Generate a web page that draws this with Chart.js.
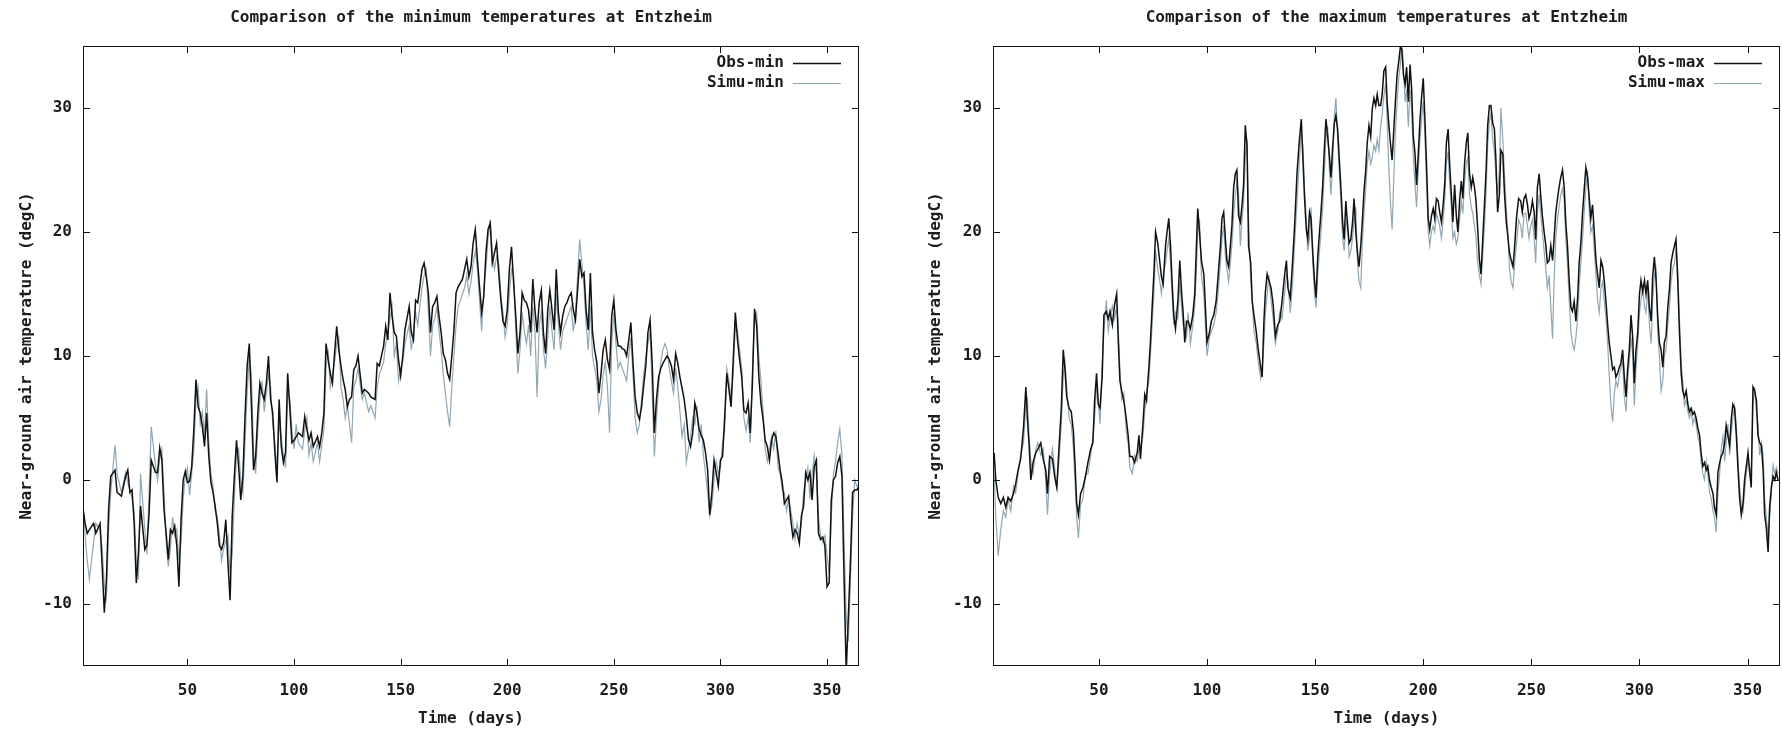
<!DOCTYPE html>
<html>
<head>
<meta charset="utf-8">
<title>Entzheim temperatures</title>
<script src="https://cdn.jsdelivr.net/npm/chart.js@4.4.1/dist/chart.umd.min.js"></script>
<style>
  html, body { margin: 0; padding: 0; background: #fff; }
  body { width: 1782px; height: 732px; position: relative; overflow: hidden; }
  canvas { position: absolute; top: 0; }
  #minChart { left: 0; }
  #maxChart { left: 891px; }
</style>
</head>
<body>
<canvas id="minChart" width="891" height="732"></canvas>
<canvas id="maxChart" width="891" height="732"></canvas>
<script>
// tick positions shared by both panels
const xTickValues = [50, 100, 150, 200, 250, 300, 350]
const yTickValues = [-10, 0, 10, 20, 30]

// minimum temperatures (degC)
const minDays = [
  1, 2, 3, 4, 6, 7, 9, 10, 11, 12,
  13, 14, 16, 17, 19, 21, 22, 23, 24, 25,
  26, 27, 28, 30, 31, 32, 33, 35, 36, 37,
  38, 39, 40, 41, 42, 43, 44, 45, 46, 47,
  48, 49, 50, 51, 52, 53, 54, 55, 56, 57,
  58, 59, 60, 61, 62, 63, 64, 65, 66, 67,
  68, 69, 70, 71, 72, 73, 74, 75, 76, 77,
  78, 79, 80, 81, 82, 83, 84, 85, 86, 87,
  88, 89, 90, 91, 92, 93, 94, 95, 96, 97,
  98, 99, 100, 101, 102, 104, 105, 106, 107, 108,
  109, 111, 112, 113, 114, 115, 116, 117, 118, 119,
  120, 121, 122, 123, 124, 125, 126, 127, 128, 129,
  130, 132, 133, 135, 136, 138, 139, 140, 142, 143,
  144, 145, 146, 147, 148, 149, 150, 151, 152, 154,
  155, 156, 157, 158, 159, 160, 161, 162, 163, 164,
  165, 166, 167, 168, 169, 170, 171, 172, 173, 174,
  175, 176, 177, 179, 180, 181, 182, 183, 184, 185,
  186, 187, 188, 189, 190, 191, 192, 193, 194, 195,
  196, 197, 198, 199, 200, 201, 202, 203, 204, 205,
  206, 207, 208, 209, 210, 211, 212, 213, 214, 215,
  216, 217, 218, 219, 220, 221, 222, 223, 224, 225,
  226, 227, 228, 229, 230, 231, 232, 233, 234, 235,
  236, 237, 238, 239, 240, 241, 242, 243, 244, 245,
  246, 247, 248, 249, 250, 251, 252, 253, 254, 255,
  256, 257, 258, 259, 260, 261, 262, 263, 264, 265,
  266, 267, 268, 269, 270, 271, 272, 273, 274, 275,
  276, 277, 278, 279, 280, 281, 282, 283, 284, 285,
  286, 287, 288, 289, 290, 291, 292, 293, 294, 295,
  296, 297, 298, 299, 300, 301, 302, 303, 304, 305,
  306, 307, 308, 309, 310, 311, 312, 313, 314, 315,
  316, 317, 318, 319, 320, 321, 322, 323, 324, 325,
  326, 327, 328, 329, 330, 331, 332, 333, 334, 335,
  336, 337, 338, 339, 340, 341, 342, 343, 344, 345,
  346, 347, 348, 349, 350, 351, 352, 353, 354, 355,
  356, 357, 358, 359, 360, 361, 362, 363, 364, 365
]
const obsMin = [
  -2.3, -3.5, -4.3, -4.0, -3.5, -4.3, -3.5, -7.0, -10.7, -8.0,
  -2.4, 0.3, 0.8, -1.0, -1.3, 0.3, 0.8, -1.0, -0.8, -3.5,
  -8.3, -5.9, -2.1, -5.6, -5.2, -2.7, 1.6, 0.6, 0.6, 2.6,
  1.6, -2.4, -4.3, -6.4, -4.0, -4.3, -3.7, -5.3, -8.6, -3.2,
  0.0, 0.7, -0.2, -0.1, 1.1, 4.1, 8.1, 5.9, 5.4, 4.3,
  2.7, 5.4, 1.9, -0.2, -1.0, -2.1, -3.5, -5.3, -5.6, -5.0,
  -3.2, -6.7, -9.7, -2.9, 0.3, 3.2, 1.1, -1.6, 0.3, 5.1,
  9.2, 11.0, 6.0, 0.8, 1.9, 5.4, 7.8, 7.0, 6.5, 7.8,
  10.0, 6.5, 5.4, 2.2, -0.2, 6.5, 2.7, 1.4, 2.2, 8.6,
  5.9, 3.0, 3.2, 3.5, 3.8, 3.5, 5.1, 4.1, 3.2, 3.8,
  2.7, 3.5, 2.7, 3.8, 5.4, 11.0, 9.7, 8.6, 7.8, 10.2,
  12.4, 10.5, 9.2, 8.1, 7.3, 5.9, 6.5, 6.7, 8.9, 9.2,
  10.0, 7.0, 7.3, 7.0, 6.7, 6.5, 9.4, 9.2, 10.8, 12.4,
  11.3, 15.1, 13.2, 11.9, 11.6, 9.7, 8.4, 10.0, 12.1, 14.0,
  11.9, 11.3, 14.5, 14.3, 15.6, 17.0, 17.5, 16.4, 15.1, 11.9,
  14.0, 14.3, 14.8, 13.2, 11.9, 10.2, 9.7, 8.6, 8.1, 10.0,
  12.1, 15.1, 15.6, 16.2, 17.0, 17.8, 16.4, 17.2, 19.1, 20.2,
  17.8, 15.6, 13.5, 14.8, 18.3, 20.2, 20.7, 17.5, 18.3, 19.1,
  16.7, 14.5, 12.8, 12.4, 13.7, 17.0, 18.8, 15.9, 13.2, 10.2,
  11.9, 15.1, 14.5, 14.3, 13.7, 11.9, 16.2, 13.7, 11.9, 14.3,
  15.3, 11.8, 10.2, 13.7, 15.3, 13.7, 12.1, 17.0, 13.5, 11.9,
  13.2, 14.0, 14.3, 14.8, 15.1, 13.7, 12.9, 15.3, 17.8, 16.4,
  16.7, 13.7, 12.1, 16.7, 11.9, 10.5, 9.5, 7.0, 8.6, 10.5,
  11.3, 9.7, 8.9, 13.2, 14.5, 12.1, 10.8, 10.8, 10.6, 10.5,
  10.0, 11.3, 12.7, 9.4, 6.7, 5.4, 4.9, 5.9, 7.6, 9.2,
  11.9, 12.9, 9.4, 3.8, 6.5, 8.3, 9.0, 9.4, 9.7, 10.0,
  9.7, 9.2, 8.1, 10.2, 9.4, 8.3, 7.4, 6.5, 5.1, 3.3,
  2.7, 3.8, 6.2, 5.4, 4.1, 3.6, 3.2, 2.2, 0.8, -2.8,
  -1.0, 1.6, 0.6, -0.5, 1.6, 1.9, 5.1, 8.6, 7.3, 5.9,
  9.7, 13.5, 11.3, 9.7, 8.3, 5.6, 5.4, 6.2, 3.8, 7.8,
  13.8, 12.4, 8.4, 6.2, 4.9, 3.2, 2.7, 1.6, 3.2, 3.8,
  3.5, 2.2, 0.8, -0.2, -1.9, -1.6, -1.3, -3.2, -4.6, -4.0,
  -4.3, -5.1, -2.9, -2.1, 0.6, 0.0, 0.6, -1.6, 1.1, 1.6,
  -4.3, -4.8, -4.6, -5.3, -8.6, -8.3, -1.6, 0.0, 0.3, 1.4,
  1.9, 0.3, -8.0, -15.5, -11.0, -6.5, -1.0, -0.8, -0.8, -0.5
]
const simuMin = [
  -2.0, -4.5, -6.5, -8.0, -5.0, -3.5, -4.0, -5.5, -8.5, -9.5,
  -4.0, -1.0, 2.8, 0.5, -1.0, 0.6, -0.2, -0.8, -1.5, -2.5,
  -6.5, -8.0, 0.5, -4.0, -6.0, -1.0, 4.3, 1.2, 0.0, 1.8,
  2.5, -1.0, -5.0, -7.0, -5.5, -3.0, -4.5, -4.0, -6.5, -5.0,
  -1.5, 0.3, 1.0, -1.2, 0.5, 2.5, 6.5, 7.5, 4.5, 5.5,
  3.5, 7.3, 3.0, 0.5, -0.5, -2.5, -3.0, -4.5, -6.5, -5.5,
  -5.0, -4.5, -7.5, -6.0, -1.5, 2.0, 2.5, 0.0, -1.0, 3.0,
  7.0, 10.0, 8.5, 2.5, 0.5, 4.0, 6.5, 8.0, 5.5, 7.0,
  8.5, 7.5, 4.5, 3.0, 1.0, 4.5, 3.5, 2.0, 1.0, 7.0,
  6.5, 4.0, 2.5, 4.5, 3.0, 2.5, 4.0, 5.0, 2.0, 3.0,
  1.5, 3.0, 1.5, 2.8, 4.0, 9.0, 10.5, 7.5, 8.5, 9.5,
  11.0, 11.5, 7.5, 6.5, 5.0, 6.0, 4.5, 3.0, 7.5, 8.0,
  9.0, 6.5, 7.0, 5.5, 6.0, 5.0, 7.5, 8.5, 9.5, 11.0,
  12.0, 13.0, 14.0, 10.0, 11.0, 8.0, 9.0, 9.5, 11.0, 12.5,
  10.5, 12.0, 13.5, 12.5, 14.0, 15.5, 16.5, 17.0, 13.5, 10.0,
  12.5, 13.0, 14.0, 12.0, 10.5, 8.5, 7.0, 5.5, 4.3, 7.5,
  10.0, 12.5, 14.0, 15.0, 15.5, 16.5, 15.0, 16.0, 17.5, 18.5,
  17.0, 14.5, 12.0, 15.5, 17.0, 19.5, 21.0, 18.5, 17.0, 18.0,
  17.5, 15.0, 13.5, 11.5, 12.5, 15.0, 17.0, 16.5, 12.0, 8.6,
  10.5, 13.5, 12.0, 11.0, 12.5, 10.0, 14.0, 12.0, 6.7, 12.5,
  13.5, 10.5, 9.0, 11.5, 14.0, 12.0, 10.5, 15.0, 12.5, 10.5,
  12.0, 12.5, 13.0, 13.5, 14.0, 12.0, 13.5, 16.5, 19.4, 17.5,
  15.5, 12.5, 10.5, 14.0, 10.0, 9.0, 8.0, 5.5, 6.5, 8.5,
  9.5, 7.5, 3.8, 11.0, 13.5, 11.0, 9.0, 9.5, 9.0, 8.5,
  8.0, 10.0, 11.5, 8.5, 5.0, 3.8, 4.5, 6.5, 8.5, 10.0,
  11.0, 12.0, 7.0, 1.9, 5.0, 7.5, 9.5, 10.5, 11.0, 10.5,
  9.0, 8.0, 7.0, 9.0, 7.5, 5.5, 3.5, 4.5, 1.4, 2.5,
  3.5, 5.0, 4.5, 6.0, 3.0, 4.5, 2.0, 0.5, -1.0, -2.9,
  -2.0, 0.0, 1.5, 0.5, 1.0, 3.0, 4.0, 9.0, 8.0, 6.5,
  8.5, 12.5, 12.0, 10.5, 9.0, 5.0, 4.0, 5.0, 3.0, 9.0,
  13.0, 13.5, 10.0, 8.0, 5.5, 2.5, 1.5, 2.5, 3.5, 2.5,
  4.0, 1.0, 0.5, -0.8, -1.0, -2.5, -1.5, -2.5, -3.5, -4.8,
  -3.5, -4.5, -3.5, -1.0, 0.0, 1.0, -1.5, 0.5, 2.0, 0.5,
  -3.0, -4.5, -5.0, -4.5, -6.0, -7.5, -3.0, 0.5, 1.5, 3.0,
  4.1, 2.0, -5.0, -11.0, -13.0, -8.0, -3.0, 0.0, -0.5, -0.3
]

// maximum temperatures (degC)
const maxDays = [
  1.5, 2.3, 3.4, 4.6, 5.8, 6.9, 8.0, 9.2, 10.5, 11.5,
  12.6, 13.8, 15.1, 16.2, 16.9, 17.7, 18.5, 19.5, 20.8, 21.8,
  23.1, 24.2, 25.4, 26.2, 27.2, 28.5, 29.5, 30.5, 31.5, 32.6,
  33.5, 34.3, 35.1, 36.2, 37.2, 38.2, 38.9, 39.7, 40.5, 41.5,
  42.6, 43.8, 44.9, 46.2, 47.2, 48.0, 48.9, 49.7, 50.5, 51.5,
  52.3, 53.4, 54.3, 55.1, 56.2, 57.2, 58.2, 58.9, 59.7, 60.5,
  61.5, 62.6, 63.5, 64.3, 65.4, 66.5, 67.7, 68.5, 69.2, 70.3,
  71.2, 72.0, 73.1, 73.8, 74.6, 75.4, 76.2, 77.2, 78.2, 78.9,
  79.7, 80.8, 81.5, 82.3, 83.1, 83.8, 84.6, 85.4, 86.5, 87.4,
  88.2, 88.9, 89.7, 90.5, 91.2, 92.3, 93.4, 94.3, 95.1, 95.7,
  96.5, 97.4, 98.5, 99.2, 100.0, 101.1, 102.0, 103.1, 104.2, 105.1,
  106.2, 106.9, 107.7, 108.5, 109.2, 110.0, 110.8, 111.5, 112.3, 113.1,
  113.8, 114.6, 115.4, 116.2, 116.9, 117.7, 118.5, 119.2, 120.2, 120.9,
  121.7, 122.8, 123.7, 124.8, 125.5, 126.3, 127.0, 127.8, 128.6, 129.6,
  130.6, 131.6, 132.7, 133.6, 134.7, 135.8, 136.7, 137.4, 138.5, 139.6,
  140.5, 141.6, 142.6, 143.6, 144.3, 145.1, 145.9, 146.6, 147.4, 148.1,
  148.9, 149.7, 150.4, 151.2, 152.0, 152.7, 153.5, 154.3, 155.0, 155.8,
  156.6, 157.3, 158.1, 158.9, 159.6, 160.4, 161.1, 161.9, 162.7, 163.4,
  164.2, 165.0, 165.7, 166.5, 167.3, 168.0, 168.8, 169.6, 170.3, 171.1,
  171.8, 172.6, 173.4, 174.1, 174.9, 175.7, 176.4, 177.2, 178.0, 178.7,
  179.5, 180.3, 181.0, 181.8, 182.6, 183.3, 184.1, 184.8, 185.6, 186.4,
  187.1, 187.9, 188.7, 189.4, 190.1, 190.8, 191.6, 192.3, 193.1, 193.9,
  194.6, 195.4, 196.2, 196.9, 197.7, 198.5, 199.2, 200.0, 200.7, 201.5,
  202.3, 203.0, 203.8, 204.6, 205.3, 206.1, 206.9, 207.6, 208.4, 209.2,
  209.9, 210.7, 211.5, 212.2, 213.0, 213.7, 214.5, 215.3, 216.0, 216.8,
  217.6, 218.3, 219.1, 219.9, 220.6, 221.4, 222.2, 222.9, 223.7, 224.4,
  225.2, 226.0, 226.7, 227.5, 228.3, 229.0, 229.8, 230.6, 231.3, 232.1,
  232.9, 233.6, 234.4, 235.2, 235.9, 236.8, 237.6, 238.4, 239.1, 239.9,
  240.7, 241.5, 242.3, 243.1, 244.1, 245.1, 245.8, 246.6, 247.4, 248.2,
  248.9, 249.7, 250.5, 251.3, 252.0, 252.8, 253.6, 254.3, 255.1, 255.9,
  256.7, 257.4, 258.2, 259.0, 259.8, 260.5, 261.3, 262.1, 262.8, 263.6,
  264.4, 265.2, 265.9, 266.7, 267.5, 268.3, 269.0, 269.8, 270.6, 271.4,
  272.1, 272.9, 273.7, 274.4, 275.2, 276.0, 276.8, 277.5, 278.3, 279.1,
  279.9, 280.6, 281.4, 282.2, 283.0, 283.7, 284.5, 285.3, 286.0, 286.8,
  287.6, 288.4, 289.1, 289.9, 290.7, 291.4, 292.2, 293.0, 293.8, 294.5,
  295.3, 296.1, 296.9, 297.6, 298.4, 299.2, 300.0, 300.7, 301.5, 302.3,
  303.0, 303.8, 304.6, 305.4, 306.1, 306.9, 307.7, 308.4, 309.2, 310.0,
  310.8, 311.5, 312.3, 313.1, 313.9, 314.6, 315.4, 316.2, 316.9, 317.7,
  318.5, 319.3, 320.0, 320.8, 321.6, 322.4, 323.1, 323.9, 324.7, 325.4,
  326.2, 327.0, 327.8, 328.5, 329.3, 330.1, 330.9, 331.6, 332.4, 333.2,
  334.0, 334.7, 335.5, 336.3, 337.1, 337.8, 338.6, 339.4, 340.1, 340.9,
  341.7, 342.5, 343.2, 344.0, 344.8, 345.6, 346.3, 347.1, 347.9, 348.6,
  349.4, 350.2, 351.0, 351.7, 352.5, 353.3, 354.1, 354.8, 355.6, 356.4,
  357.2, 357.9, 358.7, 359.5, 360.2, 361.0, 361.8, 362.6, 363.3, 364.1
]
const obsMax = [
  2.2, 0.0, -1.4, -1.9, -1.4, -2.2, -1.4, -1.7, -1.1, -0.3,
  0.8, 1.7, 4.2, 7.5, 5.0, 2.8, 0.0, 1.4, 2.2, 2.5,
  3.0, 1.7, 0.8, -1.1, 1.9, 1.7, 0.3, -0.6, 2.5, 5.8,
  10.5, 8.9, 6.7, 5.8, 5.5, 3.9, 1.4, -1.9, -2.8, -1.1,
  -0.6, 0.3, 1.4, 2.5, 3.0, 6.4, 8.6, 6.1, 5.8, 8.3,
  13.3, 13.6, 13.0, 13.6, 12.5, 14.1, 15.0, 11.4, 8.0, 7.2,
  6.4, 5.0, 3.6, 1.9, 1.9, 1.4, 2.2, 3.6, 1.7, 4.4,
  6.9, 6.4, 9.1, 11.1, 13.9, 16.6, 20.0, 19.1, 17.5, 16.4,
  15.8, 18.9, 20.0, 21.1, 18.9, 16.1, 13.3, 12.2, 14.4, 17.7,
  15.2, 13.6, 11.1, 12.8, 12.8, 12.2, 13.3, 15.0, 18.9, 21.9,
  20.0, 17.7, 16.6, 14.1, 11.1, 11.9, 12.8, 13.3, 14.4, 16.4,
  18.9, 21.1, 21.6, 19.4, 17.7, 17.2, 18.9, 20.5, 23.6, 24.7,
  25.0, 21.3, 20.8, 22.2, 23.8, 28.6, 26.9, 18.9, 17.5, 14.4,
  13.3, 11.9, 10.5, 9.1, 8.3, 12.8, 15.2, 16.6, 16.1, 15.5,
  14.1, 11.6, 12.5, 12.8, 14.4, 16.4, 17.7, 15.5, 14.7, 17.7,
  20.5, 24.7, 27.2, 29.1, 26.1, 22.7, 20.2, 19.4, 21.6, 21.1,
  18.3, 16.1, 14.7, 18.0, 20.0, 21.6, 23.8, 26.9, 29.1, 27.7,
  26.1, 24.4, 26.9, 28.8, 29.4, 28.3, 26.1, 23.6, 20.8, 19.4,
  22.5, 20.5, 19.1, 19.4, 20.8, 22.7, 20.0, 18.3, 17.2, 18.9,
  20.8, 23.3, 25.0, 27.2, 28.6, 27.7, 29.9, 30.8, 30.2, 31.1,
  30.2, 30.2, 31.1, 33.0, 33.3, 30.5, 28.6, 27.2, 25.8, 28.3,
  30.5, 32.7, 33.8, 34.9, 34.7, 32.7, 31.9, 33.3, 30.5, 33.5,
  31.6, 27.7, 26.3, 23.8, 26.3, 29.1, 30.8, 32.4, 29.4, 25.5,
  21.1, 20.2, 21.3, 21.9, 21.1, 22.7, 22.5, 21.6, 20.8, 22.2,
  23.8, 27.2, 28.3, 25.5, 23.0, 20.8, 23.8, 21.3, 20.0, 22.5,
  24.1, 22.7, 25.5, 27.2, 28.0, 24.7, 23.6, 24.4, 23.6, 22.5,
  20.2, 17.7, 16.6, 19.4, 22.2, 24.7, 28.6, 30.2, 30.2, 28.8,
  28.3, 25.8, 21.6, 23.0, 26.6, 26.3, 23.0, 20.8, 19.7, 18.3,
  17.7, 17.2, 18.9, 21.1, 22.7, 22.5, 21.6, 22.7, 23.0, 22.2,
  21.1, 21.6, 22.5, 21.6, 19.4, 23.6, 24.7, 23.0, 21.3, 20.0,
  18.9, 17.5, 17.7, 18.9, 17.7, 19.4, 21.6, 22.7, 23.6, 24.4,
  25.0, 23.6, 20.8, 18.9, 16.1, 13.9, 13.6, 14.4, 12.8, 14.7,
  17.5, 19.1, 21.6, 23.3, 25.2, 24.4, 22.7, 21.1, 22.2, 20.0,
  17.7, 16.6, 15.5, 17.7, 17.2, 16.1, 14.4, 12.5, 11.1, 10.0,
  8.9, 9.1, 8.3, 8.6, 9.1, 9.4, 10.5, 8.3, 6.7, 8.9,
  10.5, 13.3, 11.4, 7.8, 10.5, 11.9, 15.0, 16.1, 15.2, 16.1,
  15.0, 16.1, 13.9, 12.8, 16.4, 18.0, 16.1, 13.3, 11.1, 10.5,
  9.1, 11.1, 11.6, 13.9, 15.5, 17.5, 18.3, 18.9, 19.4, 16.1,
  11.9, 8.6, 7.2, 6.7, 7.2, 6.1, 5.5, 5.8, 5.3, 5.5,
  5.0, 4.2, 3.6, 2.2, 1.1, 1.4, 0.8, 1.1, 0.0, -0.6,
  -1.1, -2.2, -2.8, 0.6, 1.4, 1.9, 2.2, 3.0, 4.4, 3.6,
  2.8, 5.0, 6.1, 5.8, 3.6, 0.8, -1.4, -2.8, -1.9, 0.0,
  1.1, 2.2, 0.6, -0.6, 7.5, 7.2, 6.4, 3.6, 3.0, 2.8,
  0.8, -2.8, -3.9, -5.8, -2.2, -0.6, 0.3, 0.0, 0.6, 0.0
]
const simuMax = [
  0.5, -3.0, -6.1, -4.0, -2.5, -3.0, -1.5, -2.5, -0.5, -1.0,
  0.5, 2.0, 3.0, 6.0, 6.5, 3.5, 1.5, 0.5, 2.5, 3.0,
  2.0, 2.5, 0.0, -2.8, 0.5, 2.5, 1.0, -0.8, 1.5, 4.5,
  8.5, 9.5, 7.5, 5.0, 4.5, 2.5, 0.0, -3.0, -4.7, -2.0,
  -1.5, 0.5, 0.5, 2.0, 3.5, 5.0, 7.5, 6.5, 4.5, 9.5,
  12.0, 14.5, 12.0, 13.0, 14.0, 13.0, 14.0, 12.5, 9.0, 6.5,
  7.0, 4.0, 3.0, 1.0, 0.5, 2.0, 1.5, 2.5, 2.5, 3.5,
  5.5, 7.0, 8.0, 10.0, 12.5, 15.0, 18.5, 17.0, 16.0, 15.0,
  16.5, 17.5, 18.5, 19.5, 17.5, 15.0, 12.5, 13.5, 13.0, 16.0,
  14.0, 12.5, 12.0, 11.5, 13.5, 11.0, 12.5, 14.0, 17.0, 20.0,
  21.0, 16.5, 15.0, 12.5, 10.0, 11.5, 12.0, 12.5, 13.5, 15.0,
  17.5, 19.5, 20.5, 18.0, 17.0, 16.0, 17.5, 19.0, 21.5, 23.0,
  24.0, 23.0, 18.9, 21.0, 22.5, 26.0, 27.5, 21.0, 16.0, 14.4,
  12.0, 11.0, 9.5, 8.2, 9.0, 11.0, 13.5, 15.0, 16.5, 14.5,
  13.0, 11.0, 12.0, 13.5, 13.0, 15.0, 16.5, 16.0, 13.5, 16.0,
  19.0, 22.5, 25.5, 28.0, 27.0, 23.5, 21.0, 18.5, 19.5, 22.0,
  17.5, 15.0, 13.9, 16.5, 18.5, 20.0, 22.0, 25.0, 27.5, 28.5,
  25.0, 23.0, 25.5, 29.5, 30.8, 27.5, 25.0, 22.5, 19.5, 18.5,
  20.5, 21.0, 18.0, 18.5, 19.5, 21.0, 22.0, 17.5, 16.0, 15.5,
  19.0, 21.5, 23.5, 25.5, 26.5, 25.5, 26.0, 27.0, 26.5, 27.5,
  26.6, 28.5, 29.5, 31.0, 32.0, 29.0, 25.0, 22.5, 20.2, 24.5,
  28.0, 30.5, 32.5, 33.5, 35.5, 33.5, 30.5, 31.5, 28.5, 31.5,
  30.0, 26.0, 23.8, 22.0, 25.0, 27.5, 29.0, 30.5, 28.0, 24.0,
  20.0, 18.9, 20.0, 20.5, 20.0, 21.5, 21.0, 20.5, 19.5, 21.0,
  22.5, 25.5, 26.5, 24.0, 22.0, 19.5, 20.0, 19.0, 19.5, 21.0,
  22.5, 21.5, 24.0, 25.5, 26.0, 23.0, 22.0, 21.5, 20.5, 19.5,
  17.5, 16.5, 15.8, 18.0, 20.5, 23.0, 27.0, 29.0, 29.5, 27.5,
  26.5, 24.5, 23.0, 25.0, 30.0, 27.5, 24.5, 22.0, 20.0, 17.0,
  16.0, 15.5, 17.5, 19.0, 21.0, 20.5, 19.5, 21.5, 21.5, 20.5,
  19.5, 20.5, 21.0, 19.5, 17.5, 21.5, 23.0, 21.5, 20.0, 18.5,
  17.0, 15.5, 16.5, 14.0, 11.4, 16.0, 19.5, 21.0, 22.0, 23.0,
  23.5, 22.5, 19.5, 17.5, 14.5, 12.0, 11.0, 10.5, 11.5, 13.0,
  15.5, 17.5, 19.5, 21.5, 23.5, 25.0, 21.5, 20.0, 20.5, 18.5,
  16.5, 14.5, 13.5, 15.5, 16.0, 14.5, 13.0, 11.0, 8.5, 6.0,
  4.7, 7.0, 8.0, 7.5, 8.5, 9.0, 9.5, 6.7, 5.5, 8.0,
  9.5, 11.5, 10.0, 6.0, 9.0, 11.0, 13.5, 14.5, 15.5, 14.0,
  13.5, 15.5, 12.5, 11.0, 14.5, 16.5, 17.0, 12.0, 10.0, 7.2,
  8.0, 10.0, 10.5, 12.5, 14.0, 16.0, 17.0, 17.5, 18.5, 17.0,
  13.0, 9.5, 8.0, 6.0, 6.5, 5.5, 5.0, 5.5, 4.5, 5.0,
  4.5, 3.5, 3.0, 1.5, 0.5, 0.0, 1.5, 0.5, -1.0, -1.5,
  -2.5, -3.0, -4.2, -1.0, 0.5, 2.5, 3.5, 1.5, 3.0, 4.5,
  2.0, 4.0, 5.0, 6.0, 4.5, 1.5, -0.5, -2.0, -2.5, -1.0,
  0.5, 1.5, 1.0, 0.5, 6.0, 7.5, 5.5, 4.5, 2.0, 3.0,
  2.0, -1.5, -3.0, -4.5, -3.0, -1.0, 1.2, 0.5, 1.0, 0.5
]

const FONT_FAMILY = 'DejaVu Sans Mono'
const textColor = '#1c1c1c'
const obsColor = '#121212'
const simuColor = '#93a7b3'
const labelFont = { family: FONT_FAMILY, size: 16, weight: 'bold' }

const toPoints = (days, values) => days.map((d, i) => ({ x: d, y: values[i] }))

// gnuplot-style frame: box, inward ticks on all four sides, title and key inside
const framePlugin = {
  id: 'frame',
  afterDraw(chart, args, opts) {
    const { ctx, chartArea: a } = chart
    const { x, y } = chart.scales
    ctx.save()
    ctx.strokeStyle = '#111'
    ctx.lineWidth = 1
    ctx.strokeRect(Math.round(a.left) + 0.5, Math.round(a.top) + 0.5,
      Math.round(a.width) - 1, Math.round(a.height) - 1)

    ctx.beginPath()
    xTickValues.forEach(v => {
      const px = Math.round(x.getPixelForValue(v)) + 0.5
      ctx.moveTo(px, a.bottom); ctx.lineTo(px, a.bottom - 7)
      ctx.moveTo(px, a.top); ctx.lineTo(px, a.top + 7)
    })
    yTickValues.forEach(v => {
      const py = Math.round(y.getPixelForValue(v)) + 0.5
      ctx.moveTo(a.left, py); ctx.lineTo(a.left + 7, py)
      ctx.moveTo(a.right, py); ctx.lineTo(a.right - 7, py)
    })
    ctx.stroke()

    ctx.fillStyle = textColor
    ctx.font = `bold 16px "${FONT_FAMILY}"`
    ctx.textBaseline = 'middle'
    ctx.textAlign = 'center'
    ctx.fillText(opts.title, (a.left + a.right) / 2, 18)

    ctx.textAlign = 'right'
    chart.data.datasets.forEach((ds, i) => {
      const ly = a.top + 17 + i * 20
      ctx.fillStyle = textColor
      ctx.fillText(ds.label, a.right - 75, ly)
      ctx.strokeStyle = ds.borderColor
      ctx.lineWidth = ds.borderWidth
      ctx.beginPath()
      ctx.moveTo(a.right - 66, ly + 0.5)
      ctx.lineTo(a.right - 18, ly + 0.5)
      ctx.stroke()
    })
    ctx.restore()
  }
}

function drawPanel(id, title, days, obs, simu, labels, yWidth, yTitlePad, rightPad) {
  return new Chart(document.getElementById(id), {
    type: 'line',
    data: {
      datasets: [
        { label: labels[0], data: toPoints(days, obs), borderColor: obsColor, borderWidth: 1.5, order: 0 },
        { label: labels[1], data: toPoints(days, simu), borderColor: simuColor, borderWidth: 1.2, order: 1 }
      ]
    },
    options: {
      responsive: false,
      animation: false,
      devicePixelRatio: 1,
      layout: { padding: { top: 46, right: rightPad, bottom: 0, left: 0 } },
      elements: { point: { radius: 0 }, line: { tension: 0 } },
      plugins: {
        legend: { display: false },
        tooltip: { enabled: false },
        frame: { title }
      },
      scales: {
        x: {
          type: 'linear', min: 1, max: 365,
          grid: { display: false, drawTicks: false },
          border: { display: false },
          afterBuildTicks: s => { s.ticks = xTickValues.map(v => ({ value: v })) },
          afterFit: s => { s.height = 66 },
          ticks: { padding: 15, color: textColor, font: labelFont, maxRotation: 0 },
          title: { display: true, text: 'Time (days)', color: textColor, font: labelFont, padding: { top: 0, bottom: 4 } }
        },
        y: {
          type: 'linear', min: -15, max: 35,
          grid: { display: false, drawTicks: false },
          border: { display: false },
          afterBuildTicks: s => { s.ticks = yTickValues.map(v => ({ value: v })) },
          afterFit: s => { s.width = yWidth },
          ticks: { padding: 11, color: textColor, font: labelFont },
          title: {
            display: true, text: 'Near-ground air temperature (degC)',
            color: textColor, font: labelFont, padding: { top: yTitlePad, bottom: 0 }
          }
        }
      }
    },
    plugins: [framePlugin]
  })
}

drawPanel('minChart', 'Comparison of the minimum temperatures at Entzheim',
  minDays, obsMin, simuMin, ['Obs-min', 'Simu-min'], 83, 17, 32)
drawPanel('maxChart', 'Comparison of the maximum temperatures at Entzheim',
  maxDays, obsMax, simuMax, ['Obs-max', 'Simu-max'], 102, 35, 2)
</script>
</body>
</html>
